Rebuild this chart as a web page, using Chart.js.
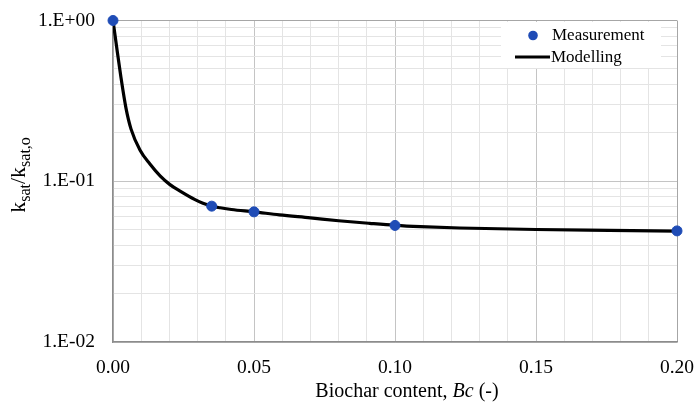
<!DOCTYPE html>
<html>
<head>
<meta charset="utf-8">
<script src="https://cdn.jsdelivr.net/npm/chart.js@4/dist/chart.umd.min.js"></script>
<style>
  html, body { margin: 0; padding: 0; background: #fff; overflow: hidden; }
  #wrap { width: 696px; height: 402px; position: relative; }
</style>
</head>
<body>
<div id="wrap"><canvas id="kChart" width="696" height="402"></canvas></div>
<script>
// Measured points (biochar content vs ksat/ksat,o)
const measX = [0, 0.035, 0.05, 0.10, 0.20];
const measY = [1.0, 0.070, 0.0645, 0.0531, 0.0491];

// Modelling curve
const modelX = [0, 0.0011, 0.0028, 0.0046, 0.0064, 0.0096, 0.0131, 0.0167, 0.0202, 0.0238, 0.0291, 0.0319, 0.035, 0.038, 0.042, 0.050, 0.059, 0.070, 0.080, 0.091, 0.100, 0.109, 0.123, 0.150, 0.176, 0.200];
const modelY = [1.0, 0.724, 0.445, 0.285, 0.211, 0.156, 0.128, 0.108, 0.0953, 0.0868, 0.0768, 0.0729, 0.0700, 0.0684, 0.0667, 0.0645, 0.0618, 0.0592, 0.0568, 0.0547, 0.0532, 0.0522, 0.0512, 0.0501, 0.0495, 0.0490];

// Axis ticks
const xTicks = [0, 0.01, 0.02, 0.03, 0.04, 0.05, 0.06, 0.07, 0.08, 0.09, 0.10, 0.11, 0.12, 0.13, 0.14, 0.15, 0.16, 0.17, 0.18, 0.19, 0.20];
const xMajor = [0, 0.05, 0.10, 0.15, 0.20];
const xMajorLabels = ['0.00', '0.05', '0.10', '0.15', '0.20'];
const yTicks = [0.01, 0.02, 0.03, 0.04, 0.05, 0.06, 0.07, 0.08, 0.09, 0.1, 0.2, 0.3, 0.4, 0.5, 0.6, 0.7, 0.8, 0.9, 1];
const yMajor = [0.01, 0.1, 1];
const yMajorLabels = ['1.E-02', '1.E-01', '1.E+00'];

const FONT = '"Liberation Serif", "Times New Roman", serif';
const BLUE = '#1f4cb6';

function findMajor(list, v) {
  return list.findIndex(m => Math.abs(m - v) < 1e-9);
}

// keep Chart.js from adding label overflow padding around the plot area
function noPadding(scale) {
  scale.paddingLeft = 0;
  scale.paddingRight = 0;
  scale.paddingTop = 0;
  scale.paddingBottom = 0;
}

// Draws the axis titles (with subscripts / italics) and the legend box
const titlesAndLegend = {
  id: 'titlesAndLegend',
  afterDraw(chart) {
    const ctx = chart.ctx;
    ctx.save();
    ctx.fillStyle = '#000';
    ctx.textBaseline = 'alphabetic';

    // x title: "Biochar content, Bc (-)"
    const parts = [
      { t: 'Biochar content, ', f: '20px ' + FONT },
      { t: 'Bc', f: 'italic 20px ' + FONT },
      { t: ' (-)', f: '20px ' + FONT }
    ];
    let total = 0;
    parts.forEach(p => { ctx.font = p.f; p.w = ctx.measureText(p.t).width; total += p.w; });
    let x = 407 - total / 2;
    parts.forEach(p => { ctx.font = p.f; ctx.textAlign = 'left'; ctx.fillText(p.t, x, 397); x += p.w; });

    // y title: k_sat / k_sat,o
    const yparts = [
      { t: 'k', f: '22px ' + FONT, dy: 0 },
      { t: 'sat', f: '16px ' + FONT, dy: 5 },
      { t: '/k', f: '22px ' + FONT, dy: 0 },
      { t: 'sat,o', f: '16px ' + FONT, dy: 5 }
    ];
    total = 0;
    yparts.forEach(p => { ctx.font = p.f; p.w = ctx.measureText(p.t).width; total += p.w; });
    ctx.save();
    ctx.translate(25, 175);
    ctx.rotate(-Math.PI / 2);
    x = -total / 2;
    yparts.forEach(p => { ctx.font = p.f; ctx.textAlign = 'left'; ctx.fillText(p.t, x, p.dy); x += p.w; });
    ctx.restore();

    // legend
    ctx.fillStyle = '#fff';
    ctx.fillRect(501, 22, 160, 46);
    ctx.fillStyle = BLUE;
    ctx.beginPath();
    ctx.arc(533, 35.5, 4.8, 0, Math.PI * 2);
    ctx.fill();
    ctx.strokeStyle = '#000';
    ctx.lineWidth = 3;
    ctx.beginPath();
    ctx.moveTo(515, 57);
    ctx.lineTo(550, 57);
    ctx.stroke();
    ctx.fillStyle = '#000';
    ctx.font = '17px ' + FONT;
    ctx.textAlign = 'left';
    ctx.textBaseline = 'middle';
    ctx.fillText('Measurement', 552, 36);
    ctx.fillText('Modelling', 551, 58);
    ctx.restore();
  }
};

const ctx = document.getElementById('kChart').getContext('2d');
new Chart(ctx, {
  type: 'scatter',
  data: {
    datasets: [
      {
        label: 'Measurement',
        data: measX.map((v, i) => ({ x: v, y: measY[i] })),
        backgroundColor: BLUE,
        borderColor: BLUE,
        pointRadius: 5,
        pointHoverRadius: 5,
        showLine: false,
        clip: false,
        order: 0
      },
      {
        label: 'Modelling',
        data: modelX.map((v, i) => ({ x: v, y: modelY[i] })),
        borderColor: '#000',
        borderWidth: 3.2,
        pointRadius: 0,
        showLine: true,
        cubicInterpolationMode: 'monotone',
        order: 1
      }
    ]
  },
  options: {
    responsive: false,
    animation: false,
    devicePixelRatio: 1,
    layout: { padding: { top: 20.5, right: 19, left: 0, bottom: 0 } },
    plugins: { legend: { display: false }, tooltip: { enabled: false } },
    scales: {
      x: {
        type: 'linear',
        min: 0,
        max: 0.2,
        afterFit(scale) { scale.height = 60; noPadding(scale); },
        afterBuildTicks(scale) { scale.ticks = xTicks.map(v => ({ value: v })); },
        ticks: {
          autoSkip: false,
          maxRotation: 0,
          padding: 14,
          color: '#000',
          font: { family: FONT, size: 19.5 },
          callback(v) {
            const i = findMajor(xMajor, v);
            return i >= 0 ? xMajorLabels[i] : '';
          }
        },
        grid: {
          drawTicks: false,
          lineWidth: 1,
          color(c) {
            const v = c.tick ? c.tick.value : 0;
            if (Math.abs(v - 0.2) < 1e-9) return '#a6a6a6';
            return findMajor(xMajor, v) >= 0 ? '#c4c4c4' : '#e4e4e4';
          }
        },
        border: { color: '#8c8c8c', width: 1.5 }
      },
      y: {
        type: 'logarithmic',
        min: 0.01,
        max: 1,
        afterFit(scale) { scale.width = 113; noPadding(scale); },
        afterBuildTicks(scale) { scale.ticks = yTicks.map(v => ({ value: v })); },
        ticks: {
          autoSkip: false,
          padding: 18,
          color: '#000',
          font: { family: FONT, size: 19.5 },
          callback(v) {
            const i = findMajor(yMajor, v);
            return i >= 0 ? yMajorLabels[i] : '';
          }
        },
        grid: {
          drawTicks: false,
          lineWidth: 1,
          color(c) {
            const v = c.tick ? c.tick.value : 0;
            if (Math.abs(v - 1) < 1e-9) return '#a6a6a6';
            return findMajor(yMajor, v) >= 0 ? '#c4c4c4' : '#e4e4e4';
          }
        },
        border: { color: '#8c8c8c', width: 1.5 }
      }
    }
  },
  plugins: [titlesAndLegend]
});
</script>
</body>
</html>
